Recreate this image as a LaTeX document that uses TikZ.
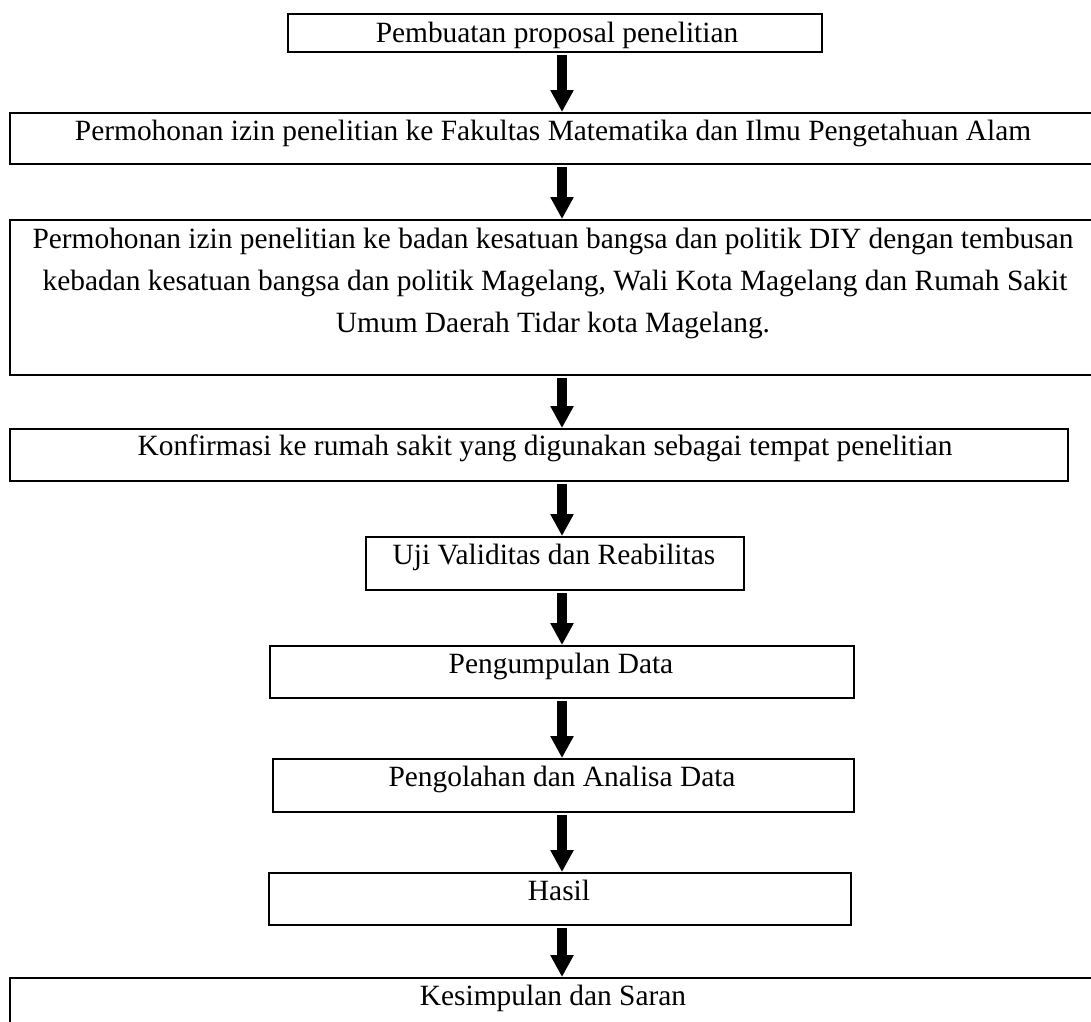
\documentclass[tikz,border=0pt]{standalone}
\usepackage{fontspec}
\setmainfont{Liberation Serif}
\usetikzlibrary{arrows.meta}
\begin{document}
\begin{tikzpicture}[x=1pt,y=-1pt,
  box/.style={draw, line width=2.2pt, inner sep=0pt, anchor=north west},
  txt/.style={anchor=base, inner sep=0pt, font=\fontsize{29.4}{41.7}\selectfont},
  bigarrow/.style={line width=10pt, -{Triangle[width=22pt,length=22pt]}}]
\useasboundingbox (0,0) rectangle (1091,1021);
\clip (0,0) rectangle (1091,1021);
\coordinate (ax) at (562,0);
% boxes
\node[box, minimum width=534pt, minimum height=38pt]  (b1) at (287,13)  {};
\node[box, minimum width=1088pt, minimum height=51pt] (b2) at (9,112)   {};
\node[box, minimum width=1088pt, minimum height=155pt] (b3) at (9,219)  {};
\node[box, minimum width=1058pt, minimum height=52pt] (b4) at (9,428)   {};
\node[box, minimum width=378pt, minimum height=53pt]  (b5) at (365,536) {};
\node[box, minimum width=584pt, minimum height=52pt]  (b6) at (269,645) {};
\node[box, minimum width=581pt, minimum height=53pt]  (b7) at (272,758) {};
\node[box, minimum width=582pt, minimum height=52pt]  (b8) at (268,872) {};
\node[box, minimum width=1088pt, minimum height=70pt] (b9) at (9,977)   {};
% texts
\node[txt] (t1)  at (557,42)   {Pembuatan proposal penelitian};
\node[txt] (t2)  at (553,140)  {Permohonan izin penelitian ke Fakultas Matematika dan Ilmu Pengetahuan Alam};
\node[txt] (t3a) at (553,248)  {Permohonan izin penelitian ke badan kesatuan bangsa dan politik DIY dengan tembusan};
\node[txt] (t3b) at (555,290)  {kebadan kesatuan bangsa dan politik Magelang, Wali Kota Magelang dan Rumah Sakit};
\node[txt] (t3c) at (553,332)  {Umum Daerah Tidar kota Magelang.};
\node[txt] (t4)  at (545,455)  {Konfirmasi ke rumah sakit yang digunakan sebagai tempat penelitian};
\node[txt] (t5)  at (554,564)  {Uji Validitas dan Reabilitas};
\node[txt] (t6)  at (561,673)  {Pengumpulan Data};
\node[txt] (t7)  at (562,786)  {Pengolahan dan Analisa Data};
\node[txt] (t8)  at (559,900)  {Hasil};
\node[txt] (t9)  at (553,1005) {Kesimpulan dan Saran};
% arrows
\draw[bigarrow] ([yshift=-2pt]b1.south -| ax) -- (b2.north -| ax);
\draw[bigarrow] ([yshift=-2pt]b2.south -| ax) -- (b3.north -| ax);
\draw[bigarrow] ([yshift=-2pt]b3.south -| ax) -- (b4.north -| ax);
\draw[bigarrow] ([yshift=-2pt]b4.south -| ax) -- (b5.north -| ax);
\draw[bigarrow] ([yshift=-2pt]b5.south -| ax) -- (b6.north -| ax);
\draw[bigarrow] ([yshift=-2pt]b6.south -| ax) -- (b7.north -| ax);
\draw[bigarrow] ([yshift=-2pt]b7.south -| ax) -- (b8.north -| ax);
\draw[bigarrow] ([yshift=-2pt]b8.south -| ax) -- (b9.north -| ax);
\end{tikzpicture}
\end{document}
